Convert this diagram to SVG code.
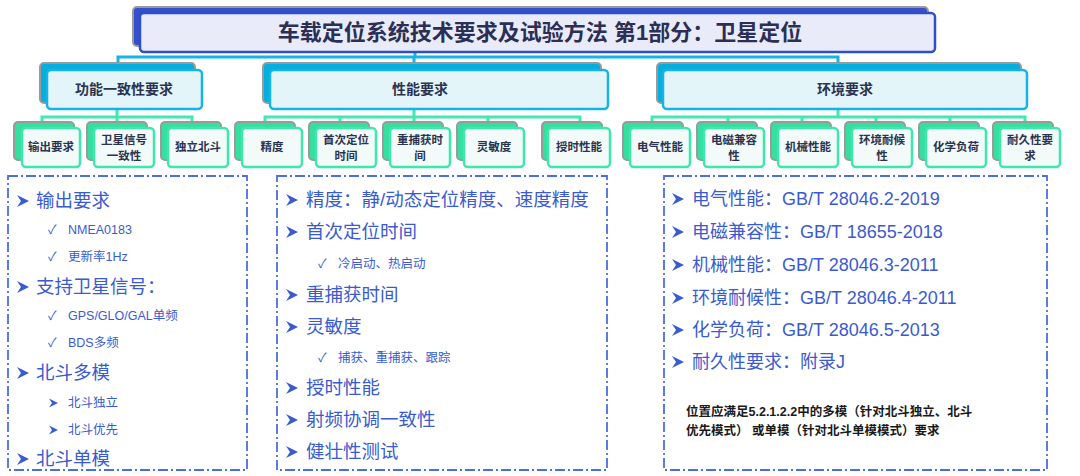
<svg xmlns="http://www.w3.org/2000/svg" width="1080" height="476" viewBox="0 0 1080 476">
<style>
text{font-family:"Liberation Sans","Noto Sans CJK SC",sans-serif}
.t1{font-size:22px;font-weight:bold;fill:#2b2f55}
.t2{font-size:14px;font-weight:bold;fill:#2b3350}
.t3{font-size:11.5px;font-weight:bold;fill:#2b3350}
.b1{fill:#3550cc;stroke:#9a9a9a;stroke-width:2}
.f1{fill:#e9ecf8;stroke:#2f4fc8;stroke-width:2.5}
.b2{fill:#04aede;stroke:#9a9a9a;stroke-width:2}
.f2{fill:#e4f5fa;stroke:#14b4e6;stroke-width:2.5}
.b3{fill:#34e0a0;stroke:#9a9a9a;stroke-width:2}
.f3{fill:#f2fbf9;stroke:#3ee8ac;stroke-width:2.5}
.c1{stroke:#14b4e6;stroke-width:3;fill:none}
.c2{stroke:#42e8b0;stroke-width:3;fill:none}
.dash{fill:none;stroke:#4a6fe0;stroke-width:1.8;stroke-dasharray:10 3 2 3}
.h{font-size:18px;fill:#3a5bd0}
.hw{font-size:18.5px;fill:#3a5bd0}
.s{font-size:12.5px;fill:#3a5bd0}
.m{fill:#3a5bd0}
.note{font-size:12.5px;font-weight:bold;fill:#1a1a1a}
</style>
<defs>
<path id="arr" d="M0,-6 L12,0 L0,6 L4,0 Z"/>
<path id="arrs" d="M0,-4.5 L9,0 L0,4.5 L3,0 Z"/>
</defs>
<g id="connectors">
<path class="c1" d="M118,66 V57 H838 V66 M415,52 V57 M414,57 V66"/>
<path class="c2" d="M42,124 V117 H192 V124 M117,109 V124"/>
<path class="c2" d="M265,124 V117 H580 V124 M340,117 V124 M414,109 V124 M488,117 V124"/>
<path class="c2" d="M652,124 V117 H1025 V124 M728,117 V124 M802,117 V124 M876,117 V124 M950,117 V124 M838,109 V117"/>
</g>
<g id="title">
<rect class="b1" x="133" y="7" width="795" height="39" rx="4"/>
<rect class="f1" x="140" y="13" width="795" height="39" rx="4"/>
<text class="t1" x="540" y="40" text-anchor="middle">车载定位系统技术要求及试验方法 第1部分：卫星定位</text>
</g>
<g id="n-func">
<rect class="b2" x="40" y="63" width="155" height="40" rx="4"/>
<rect class="f2" x="47" y="70" width="155" height="39" rx="4"/>
<text class="t2" x="124" y="94" text-anchor="middle">功能一致性要求</text>
</g>
<g id="n-perf">
<rect class="b2" x="263" y="63" width="338" height="40" rx="4"/>
<rect class="f2" x="270" y="70" width="338" height="39" rx="4"/>
<text class="t2" x="420" y="94" text-anchor="middle">性能要求</text>
</g>
<g id="n-env">
<rect class="b2" x="657" y="63" width="364" height="40" rx="4"/>
<rect class="f2" x="663" y="70" width="364" height="39" rx="4"/>
<text class="t2" x="845" y="94" text-anchor="middle">环境要求</text>
</g>
<g id="n-out"><rect class="b3" x="14" y="122" width="60" height="38" rx="4"/><rect class="f3" x="22" y="128" width="58" height="39" rx="4"/><text class="t3" x="51" y="151" text-anchor="middle">输出要求</text></g>
<g id="n-sat"><rect class="b3" x="87" y="122" width="60" height="38" rx="4"/><rect class="f3" x="94" y="128" width="60" height="39" rx="4"/><text class="t3" x="124" y="144" text-anchor="middle">卫星信号</text><text class="t3" x="124" y="160" text-anchor="middle">一致性</text></g>
<g id="n-bd"><rect class="b3" x="161" y="122" width="60" height="38" rx="4"/><rect class="f3" x="168" y="128" width="60" height="39" rx="4"/><text class="t3" x="198" y="151" text-anchor="middle">独立北斗</text></g>
<g id="n-acc"><rect class="b3" x="235" y="122" width="60" height="38" rx="4"/><rect class="f3" x="242" y="128" width="60" height="39" rx="4"/><text class="t3" x="272" y="151" text-anchor="middle">精度</text></g>
<g id="n-ttff"><rect class="b3" x="309" y="122" width="60" height="38" rx="4"/><rect class="f3" x="316" y="128" width="60" height="39" rx="4"/><text class="t3" x="346" y="144" text-anchor="middle">首次定位</text><text class="t3" x="346" y="160" text-anchor="middle">时间</text></g>
<g id="n-reacq"><rect class="b3" x="383" y="122" width="60" height="38" rx="4"/><rect class="f3" x="390" y="128" width="60" height="39" rx="4"/><text class="t3" x="420" y="144" text-anchor="middle">重捕获时</text><text class="t3" x="420" y="160" text-anchor="middle">间</text></g>
<g id="n-sens"><rect class="b3" x="457" y="122" width="60" height="38" rx="4"/><rect class="f3" x="464" y="128" width="60" height="39" rx="4"/><text class="t3" x="494" y="151" text-anchor="middle">灵敏度</text></g>
<g id="n-time"><rect class="b3" x="542" y="122" width="60" height="38" rx="4"/><rect class="f3" x="548" y="128" width="62" height="39" rx="4"/><text class="t3" x="579" y="151" text-anchor="middle">授时性能</text></g>
<g id="n-elec"><rect class="b3" x="623" y="122" width="60" height="38" rx="4"/><rect class="f3" x="630" y="128" width="60" height="39" rx="4"/><text class="t3" x="660" y="151" text-anchor="middle">电气性能</text></g>
<g id="n-emc"><rect class="b3" x="697" y="122" width="60" height="38" rx="4"/><rect class="f3" x="704" y="128" width="60" height="39" rx="4"/><text class="t3" x="734" y="144" text-anchor="middle">电磁兼容</text><text class="t3" x="734" y="160" text-anchor="middle">性</text></g>
<g id="n-mech"><rect class="b3" x="771" y="122" width="60" height="38" rx="4"/><rect class="f3" x="778" y="128" width="60" height="39" rx="4"/><text class="t3" x="808" y="151" text-anchor="middle">机械性能</text></g>
<g id="n-weather"><rect class="b3" x="845" y="122" width="60" height="38" rx="4"/><rect class="f3" x="852" y="128" width="60" height="39" rx="4"/><text class="t3" x="882" y="144" text-anchor="middle">环境耐候</text><text class="t3" x="882" y="160" text-anchor="middle">性</text></g>
<g id="n-chem"><rect class="b3" x="919" y="122" width="60" height="38" rx="4"/><rect class="f3" x="926" y="128" width="60" height="39" rx="4"/><text class="t3" x="956" y="151" text-anchor="middle">化学负荷</text></g>
<g id="n-dur"><rect class="b3" x="993" y="122" width="60" height="38" rx="4"/><rect class="f3" x="1000" y="128" width="60" height="39" rx="4"/><text class="t3" x="1030" y="144" text-anchor="middle">耐久性要</text><text class="t3" x="1030" y="160" text-anchor="middle">求</text></g>

<g id="list-func">
<rect class="dash" x="8" y="176" width="239" height="294"/>
<use href="#arr" class="m" x="17" y="201"/><text class="hw" x="36" y="207">输出要求</text>
<text class="s" x="48" y="234">✓</text><text class="s" x="68" y="234">NMEA0183</text>
<text class="s" x="48" y="261">✓</text><text class="s" x="68" y="261">更新率1Hz</text>
<use href="#arr" class="m" x="17" y="287"/><text class="hw" x="36" y="293">支持卫星信号：</text>
<text class="s" x="48" y="320">✓</text><text class="s" x="68" y="320">GPS/GLO/GAL单频</text>
<text class="s" x="48" y="347">✓</text><text class="s" x="68" y="347">BDS多频</text>
<use href="#arr" class="m" x="17" y="373"/><text class="hw" x="36" y="379">北斗多模</text>
<use href="#arrs" class="m" x="49" y="403"/><text class="s" x="68" y="407">北斗独立</text>
<use href="#arrs" class="m" x="49" y="430"/><text class="s" x="68" y="434">北斗优先</text>
<use href="#arr" class="m" x="17" y="459"/><text class="hw" x="36" y="465">北斗单模</text>
</g>
<g id="list-perf">
<rect class="dash" x="277" y="176" width="330" height="294"/>
<use href="#arr" class="m" x="286" y="200"/><text class="hw" x="306" y="206">精度：静/动态定位精度、速度精度</text>
<use href="#arr" class="m" x="286" y="232"/><text class="hw" x="306" y="238">首次定位时间</text>
<text class="s" x="318" y="268">✓</text><text class="s" x="338" y="268">冷启动、热启动</text>
<use href="#arr" class="m" x="286" y="295"/><text class="hw" x="306" y="301">重捕获时间</text>
<use href="#arr" class="m" x="286" y="327"/><text class="hw" x="306" y="333">灵敏度</text>
<text class="s" x="318" y="362">✓</text><text class="s" x="338" y="362">捕获、重捕获、跟踪</text>
<use href="#arr" class="m" x="286" y="388"/><text class="hw" x="306" y="394">授时性能</text>
<use href="#arr" class="m" x="286" y="420"/><text class="hw" x="306" y="426">射频协调一致性</text>
<use href="#arr" class="m" x="286" y="452"/><text class="hw" x="306" y="458">健壮性测试</text>
</g>
<g id="list-env">
<rect class="dash" x="664" y="176" width="383" height="294"/>
<use href="#arr" class="m" x="672" y="199"/><text class="h" x="692" y="205">电气性能：GB/T 28046.2-2019</text>
<use href="#arr" class="m" x="672" y="232"/><text class="h" x="692" y="238">电磁兼容性：GB/T 18655-2018</text>
<use href="#arr" class="m" x="672" y="265"/><text class="h" x="692" y="271">机械性能：GB/T 28046.3-2011</text>
<use href="#arr" class="m" x="672" y="298"/><text class="h" x="692" y="304">环境耐候性：GB/T 28046.4-2011</text>
<use href="#arr" class="m" x="672" y="330"/><text class="h" x="692" y="336">化学负荷：GB/T 28046.5-2013</text>
<use href="#arr" class="m" x="672" y="362"/><text class="h" x="692" y="368">耐久性要求：附录J</text>
<text class="note" x="686" y="416">位置应满足5.2.1.2.2中的多模（针对北斗独立、北斗</text>
<text class="note" x="686" y="435">优先模式） 或单模（针对北斗单模模式）要求</text>
</g>
</svg>
